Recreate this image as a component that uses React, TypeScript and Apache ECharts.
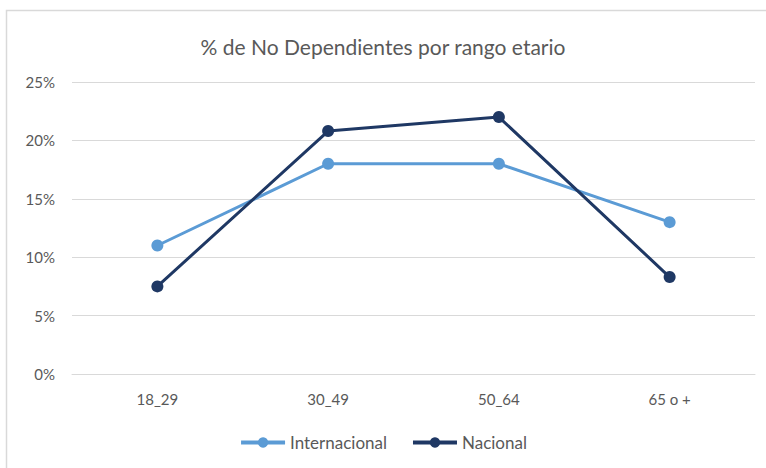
import React, { useEffect, useRef } from "react";
import * as echarts from "echarts";

const categories = ["18_29", "30_49", "50_64", "65 o +"];
const internacional = [11, 18, 18, 13];
const nacional = [7.5, 20.8, 22, 8.3];
const seriesNames = ["Internacional", "Nacional"];

export default function App() {
  const ref = useRef<HTMLDivElement>(null);
  useEffect(() => {
    if (!ref.current) return;
    const chart = echarts.init(ref.current, null, { renderer: "svg" });
    const font = "Lato, 'Open Sans', sans-serif";
    chart.setOption({
      animation: false,
      backgroundColor: "#ffffff",
      textStyle: { fontFamily: font },
      title: {
        text: "% de No Dependientes por rango etario",
        left: "center",
        top: 31,
        textStyle: { fontFamily: font, fontSize: 21, fontWeight: "normal", color: "#595959" },
      },
      graphic: [
        {
          type: "rect",
          shape: { x: 6.5, y: 10.5, width: 800, height: 500 },
          style: { fill: "none", stroke: "#D9D9D9", lineWidth: 1.5 },
          silent: true,
        },
      ],
      legend: {
        data: seriesNames,
        bottom: 12,
        left: "center",
        itemWidth: 44,
        itemHeight: 13,
        itemGap: 24,
        lineStyle: { width: 4 },
        textStyle: { fontFamily: font, fontSize: 17, color: "#595959" },
      },
      grid: { left: 72, right: 11, top: 82, bottom: 94 },
      xAxis: {
        type: "category",
        data: categories,
        boundaryGap: true,
        axisLine: { show: true, lineStyle: { color: "#D9D9D9", width: 1 } },
        axisTick: { show: false },
        axisLabel: { fontFamily: font, fontSize: 15, color: "#595959", margin: 17 },
      },
      yAxis: {
        type: "value",
        min: 0,
        max: 25,
        interval: 5,
        axisLine: { show: false },
        axisTick: { show: false },
        splitLine: { lineStyle: { color: "#D9D9D9", width: 1 } },
        axisLabel: {
          fontFamily: font,
          fontSize: 15,
          color: "#595959",
          margin: 17,
          formatter: (v: number) => v + "%",
        },
      },
      series: [
        {
          name: seriesNames[0],
          type: "line",
          data: internacional,
          symbol: "circle",
          symbolSize: 12,
          lineStyle: { width: 3, color: "#5B9BD5" },
          itemStyle: { color: "#5B9BD5" },
        },
        {
          name: seriesNames[1],
          type: "line",
          data: nacional,
          symbol: "circle",
          symbolSize: 12,
          lineStyle: { width: 3, color: "#1F3864" },
          itemStyle: { color: "#1F3864" },
        },
      ],
    });
    return () => chart.dispose();
  }, []);
  return (
    <div
      ref={ref}
      style={{ position: "absolute", left: 0, top: 0, width: 766, height: 468 }}
    />
  );
}
